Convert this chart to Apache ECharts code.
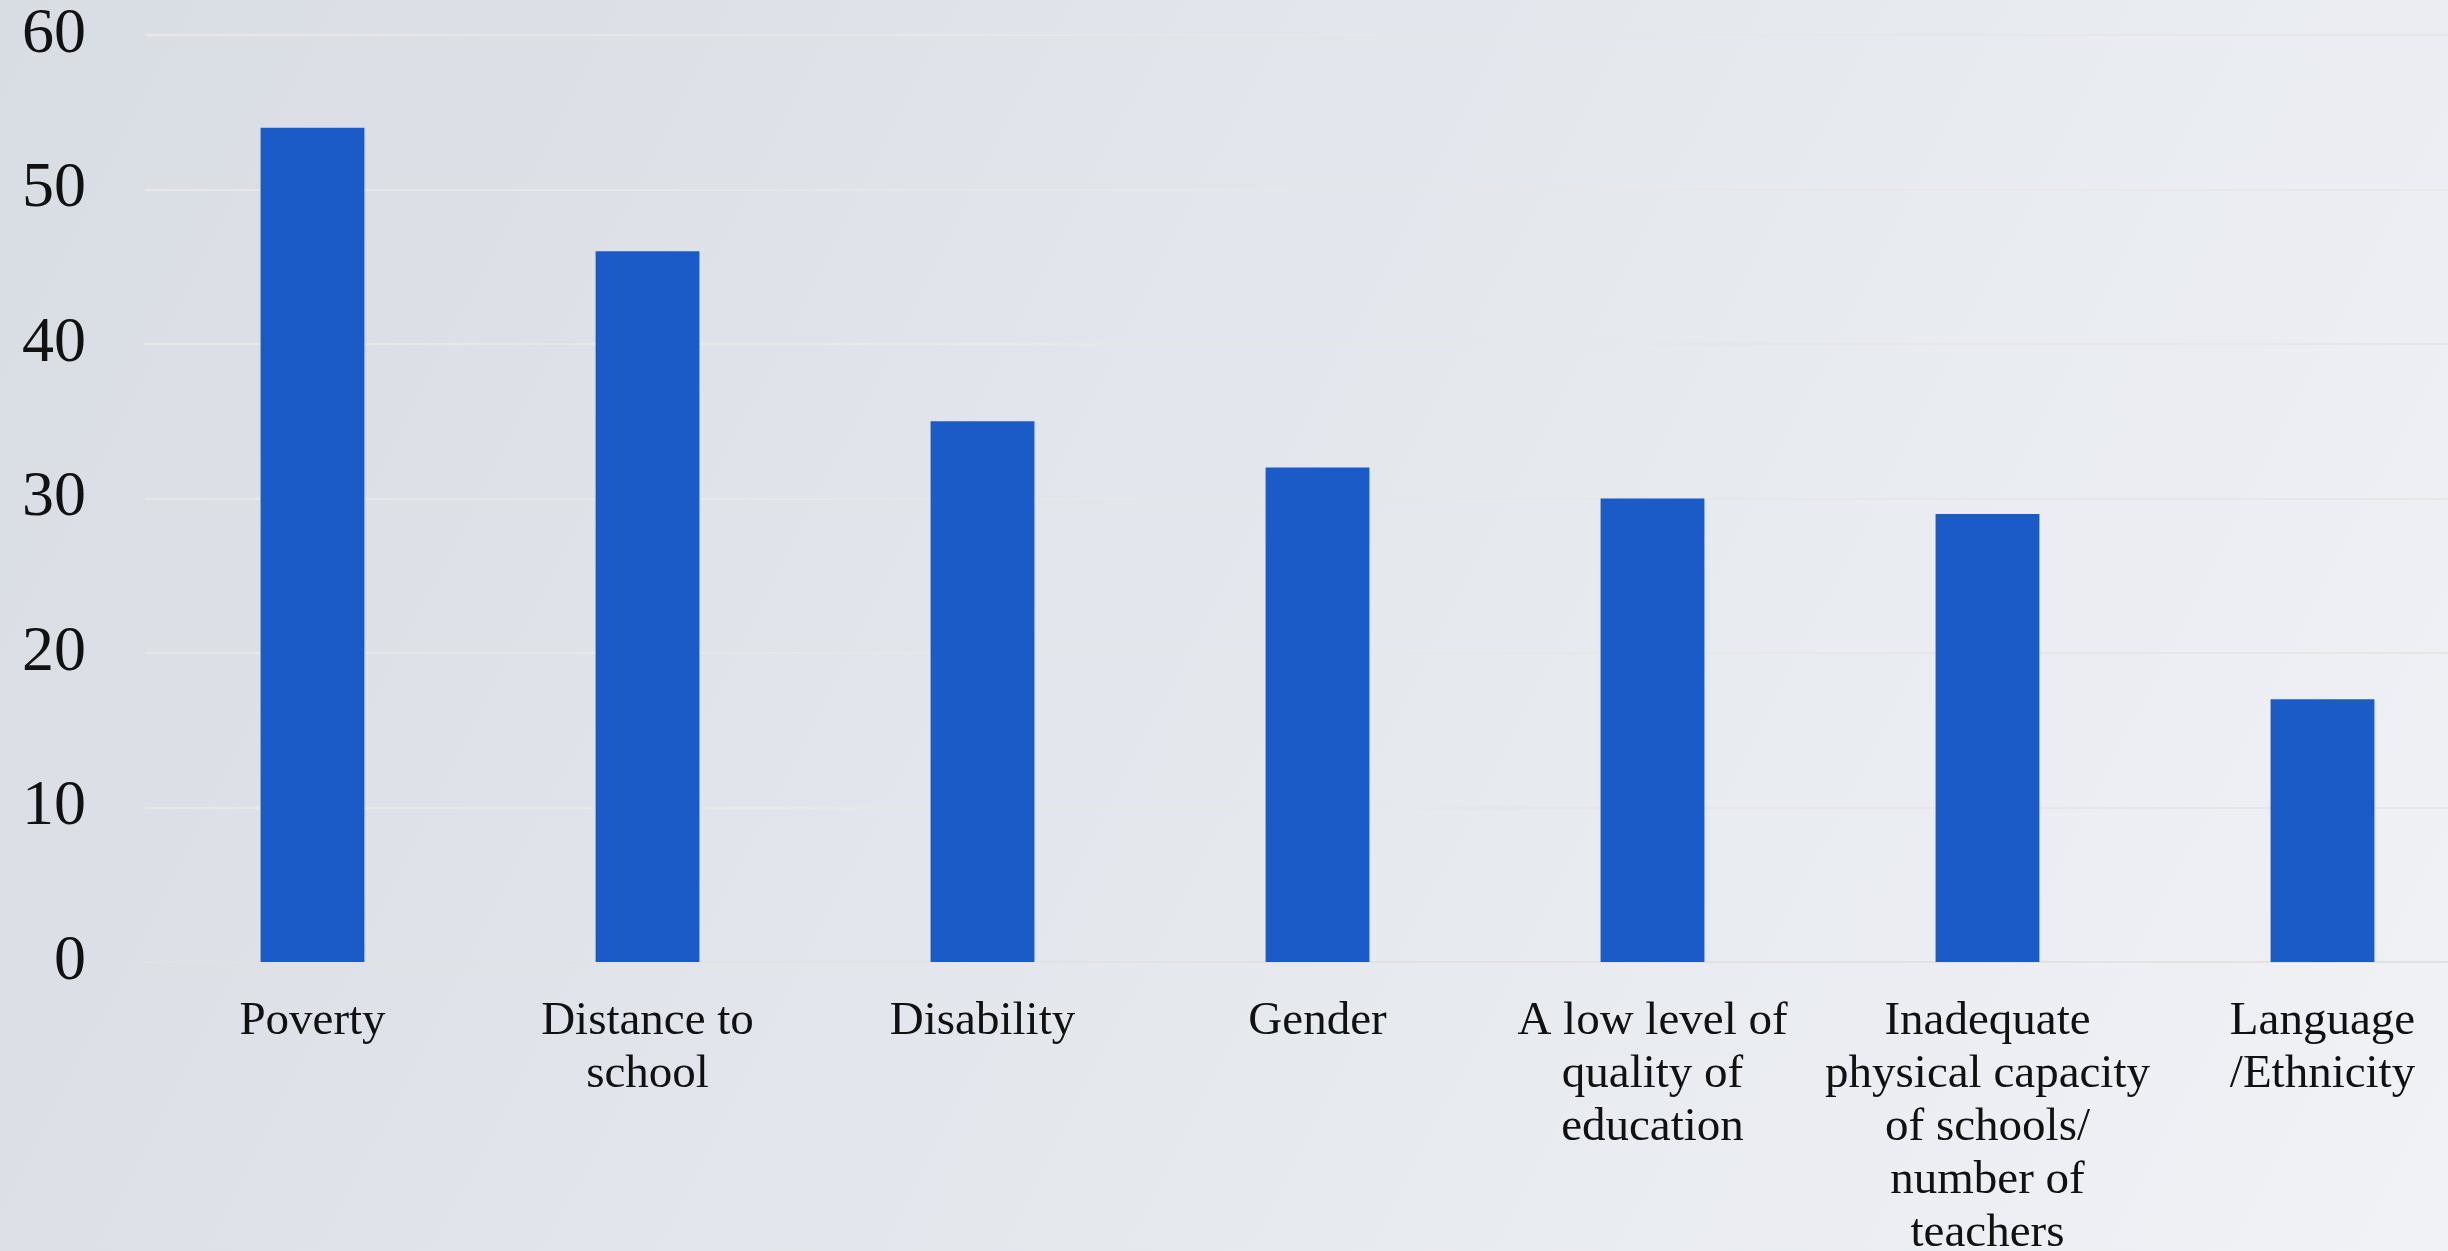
<!DOCTYPE html>
<html>
<head>
<meta charset="utf-8">
<script src="https://cdn.jsdelivr.net/npm/echarts@6/dist/echarts.min.js"></script>
<style>
html,body{margin:0;padding:0;width:2448px;height:1251px;overflow:hidden;}
#c{width:2448px;height:1251px;}
</style>
</head>
<body>
<div id="c"></div>
<script>
const categories = [
  "Poverty",
  "Distance to\nschool",
  "Disability",
  "Gender",
  "A low level of\nquality of\neducation",
  "Inadequate\nphysical capacity\nof schools/\nnumber of\nteachers",
  "Language\n/Ethnicity"
];
const values = [54, 46, 35, 32, 30, 29, 17];
const yTicks = [0, 10, 20, 30, 40, 50, 60];

const chart = echarts.init(document.getElementById('c'));
chart.setOption({
  backgroundColor: {
    type: 'linear', x: 0, y: 0, x2: 1, y2: 1,
    colorStops: [
      {offset: 0, color: '#d8dce3'},
      {offset: 1, color: '#f0f2f6'}
    ]
  },
  animation: false,
  grid: {left: 145, width: 2345, top: 35, bottom: 289, containLabel: false, outerBoundsMode: 'none'},
  xAxis: {
    type: 'category',
    data: categories,
    axisLine: {show: true, lineStyle: {color: '#e4e2e0', width: 2}},
    axisTick: {show: false},
    axisLabel: {
      interval: 0,
      margin: 33,
      fontFamily: 'Liberation Serif',
      fontSize: 47,
      lineHeight: 53,
      color: '#111',
      align: 'center'
    }
  },
  yAxis: {
    type: 'value',
    min: 0, max: 60, interval: 10,
    axisLine: {show: false},
    axisTick: {show: false},
    splitLine: {lineStyle: {color: '#e8e7e6', width: 2}},
    axisLabel: {
      margin: 59,
      fontFamily: 'Liberation Serif',
      fontSize: 64,
      color: '#111',
      padding: [6, 0, 0, 0],
      formatter: function (v) { return yTicks.indexOf(v) >= 0 ? String(v) : ''; }
    }
  },
  series: [{
    type: 'bar',
    data: values,
    barWidth: '31%',
    itemStyle: {color: '#1a5bc8'}
  }]
});
</script>
</body>
</html>
